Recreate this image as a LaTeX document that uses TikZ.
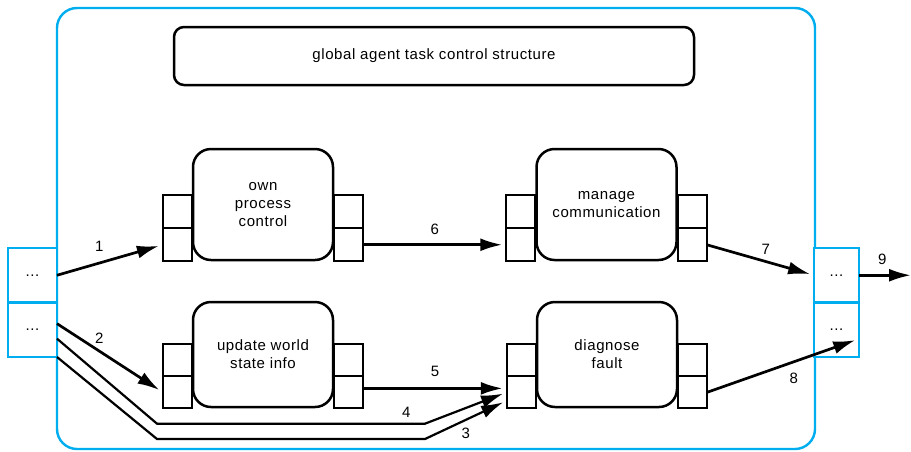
\documentclass[tikz,border=0pt]{standalone}
\usepackage{fontspec}
\setmainfont{Liberation Sans}[LetterSpace=4]
\usetikzlibrary{positioning,arrows.meta}

\definecolor{agentblue}{RGB}{0,174,239}

\tikzset{
    task/.style={draw, line width=2.5pt, rounded corners=18pt, minimum width=140pt, align=center},
    port/.style={draw, line width=2.2pt, minimum width=29pt, minimum height=33pt, outer sep=0pt},
    ioport/.style={draw=agentblue, line width=2.4pt, fill=white, minimum height=54.5pt, outer sep=0pt},
    flow/.style={line width=2.7pt, -{Latex[length=22pt,width=13pt]}, shorten >=4pt},
    lbl/.style={inner sep=2pt}
}

\begin{document}
\begin{tikzpicture}[x=1pt, y=-1pt, font=\fontsize{15}{18}\selectfont]
        \useasboundingbox (0,0) rectangle (911,451);
        \node[draw=agentblue, line width=2.4pt, rounded corners=20pt, minimum width=758pt, minimum height=441pt] (agent) at (436,228.5) {};
        \node[draw, line width=2.5pt, rounded corners=10pt, minimum width=520pt, minimum height=58pt] (ctrl) at (434,56) {global agent task control structure};

        \node[ioport, minimum width=49pt] (inA) at (32.5,275.25) {...};
        \node[ioport, minimum width=49pt, below=0pt of inA] (inB) {...};
        \node[ioport, minimum width=45pt] (outA) at (836.5,275.25) {...};
        \node[ioport, minimum width=45pt, below=0pt of outA] (outB) {...};

        \node[task, minimum height=111pt] (own)  at (263,204.5)   {own\\process\\control};
        \node[task, minimum height=111pt] (comm) at (606.5,204.5) {manage\\communication};
        \node[task, minimum height=105pt] (upd)  at (263,354.5)   {update world\\state info};
        \node[task, minimum height=105pt] (diag) at (607,354.5)   {diagnose\\fault};

        \node[port, anchor=south east] (ownL2) at (own.south west) {};
        \node[port, above=0pt of ownL2] (ownL1) {};
        \node[port, anchor=south west] (ownR2) at (own.south east) {};
        \node[port, above=0pt of ownR2] (ownR1) {};
        \node[port, anchor=south east] (commL2) at (comm.south west) {};
        \node[port, above=0pt of commL2] (commL1) {};
        \node[port, anchor=south west] (commR2) at (comm.south east) {};
        \node[port, above=0pt of commR2] (commR1) {};
        \node[port, minimum height=32pt, anchor=south east] (updL2) at (upd.south west) {};
        \node[port, minimum height=32pt, above=0pt of updL2] (updL1) {};
        \node[port, minimum height=32pt, anchor=south west] (updR2) at (upd.south east) {};
        \node[port, minimum height=32pt, above=0pt of updR2] (updR1) {};
        \node[port, minimum height=32pt, anchor=south east] (diagL2) at (diag.south west) {};
        \node[port, minimum height=32pt, above=0pt of diagL2] (diagL1) {};
        \node[port, minimum height=32pt, anchor=south west] (diagR2) at (diag.south east) {};
        \node[port, minimum height=32pt, above=0pt of diagR2] (diagR1) {};

        \coordinate (exit) at (911,275.25);

        \draw[flow] (inA.east) -- node[lbl, above=8pt, pos=0.4] (n1) {1} (ownL2.west);
        \draw[flow] (inB.14) -- node[lbl, above=4pt, pos=0.4] (n2) {2} (updL2.west);
        \draw[flow, line width=2.2pt] (inB.south east) -- ++(100,82) -- ++(268,0)
            -- node[lbl, below=5pt, pos=0.5] (n3) {3} (diagL2.210);
        \draw[flow, line width=2.2pt] (inB.-20) -- ++(100,85) -- node[lbl, above=3pt, pos=0.93] (n4) {4} ++(268,0)
            -- (diagL2.west);
        \draw[flow] (updR2.15) -- node[lbl, above=8pt] (n5) {5} (diagL2.165);
        \draw[flow] (ownR2.east) -- node[lbl, above=7pt] (n6) {6} (commL2.west);
        \draw[flow] (commR2.east) -- node[lbl, above=4pt, pos=0.55] (n7) {7} (outA.west);
        \draw[flow] (diagR2.east) -- node[lbl, below=8pt, pos=0.57] (n8) {8} (outB.-22);
        \draw[flow, shorten >=0pt] (outA.east) -- node[lbl, above=7pt, pos=0.45] (n9) {9} (exit);
\end{tikzpicture}
\end{document}
